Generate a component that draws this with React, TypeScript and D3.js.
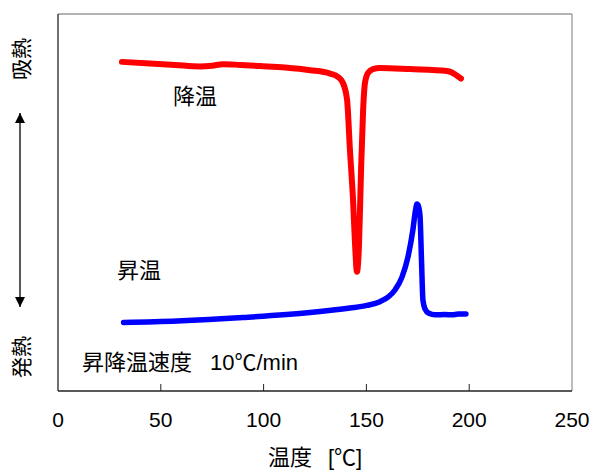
import React from "react";
import * as d3 from "d3";

const coolingTemp = [31.1, 44.7, 56.9, 69.1, 74.9, 80.3, 88.5, 98.2, 110.4, 122.6, 132.3, 136.2, 138.6, 140.6, 142.0, 143.5, 144.5, 145.4, 146.4, 147.4, 148.4, 149.3, 150.8, 153.2, 156.6, 171.2, 189.2, 191.6, 194.1, 196.0];
const coolingHeat = [87.3, 86.9, 86.5, 86.1, 86.3, 86.7, 86.5, 86.2, 85.8, 85.1, 84.2, 83.3, 81.7, 77.2, 63.9, 50.7, 38.7, 31.6, 38.7, 58.6, 74.5, 81.7, 84.4, 85.4, 85.7, 85.4, 84.9, 84.5, 83.6, 82.9];

const heatingTemp = [31.9, 57.9, 90.0, 122.6, 142.0, 150.3, 156.6, 160.5, 163.9, 167.3, 170.2, 172.6, 173.9, 174.6, 175.3, 176.1, 176.8, 177.5, 178.5, 180.4, 183.4, 188.2, 191.6, 194.6, 198.4];
const heatingHeat = [18.2, 18.6, 19.5, 20.8, 22.0, 22.7, 23.7, 24.9, 26.8, 30.2, 35.5, 42.7, 48.0, 49.6, 49.1, 46.2, 34.7, 24.1, 21.8, 20.6, 20.2, 20.3, 20.2, 20.4, 20.4];

const xTicks = [0, 50, 100, 150, 200, 250];
const innerTicks = [50, 100, 150, 200];

const labelCooling = "降温";
const labelHeating = "昇温";
const labelRateA = "昇降温速度";
const labelRateB = "10℃/min";
const labelXA = "温度";
const labelXB = "[℃]";
const labelEndo = "吸熱";
const labelExo = "発熱";

const W = 594;
const H = 472;
const M = { left: 58, right: 572, top: 14, bottom: 391 };

const FONT = "'Liberation Sans', Arial, 'Noto Sans CJK JP', sans-serif";
const CJK = "'Noto Sans CJK JP', sans-serif";

export default function App() {
  const x = d3.scaleLinear().domain([0, 250]).range([M.left, M.right]);
  const y = d3.scaleLinear().domain([0, 100]).range([M.bottom, M.top]);

  const line = d3
    .line<[number, number]>()
    .x((d) => x(d[0]))
    .y((d) => y(d[1]))
    .curve(d3.curveMonotoneX);

  const cooling = coolingTemp.map((t, i) => [t, coolingHeat[i]] as [number, number]);
  const heating = heatingTemp.map((t, i) => [t, heatingHeat[i]] as [number, number]);

  return (
    <svg width={W} height={H} style={{ position: "absolute", left: 0, top: 0 }}>
      <defs>
        <marker id="ah" viewBox="0 0 10 10" refX="10" refY="5" markerWidth="10" markerHeight="11" markerUnits="userSpaceOnUse" orient="auto">
          <path d="M0,0 L10,5 L0,10 z" fill="#000" />
        </marker>
      </defs>
      <rect width={W} height={H} fill="#fff" />
      {/* frame */}
      <line x1={M.left} x2={M.right} y1={M.top} y2={M.top} stroke="#999" strokeWidth={1.3} />
      <line x1={M.right} x2={M.right} y1={M.top} y2={M.bottom} stroke="#999" strokeWidth={1.3} />
      <line x1={M.left} x2={M.left} y1={M.top} y2={M.bottom} stroke="#222" strokeWidth={1.3} />
      <line x1={M.left} x2={M.right} y1={M.bottom} y2={M.bottom} stroke="#222" strokeWidth={1.3} />
      {innerTicks.map((t) => (
        <line key={t} x1={x(t)} x2={x(t)} y1={M.bottom} y2={M.bottom - 7} stroke="#222" strokeWidth={1} />
      ))}
      {xTicks.map((t) => (
        <text key={t} x={x(t)} y={427} textAnchor="middle" fontFamily={FONT} fontSize={21} fill="#000">
          {t}
        </text>
      ))}
      <text x={268} y={465} fontFamily={CJK} fontSize={22} fill="#000">
        {labelXA}
      </text>
      <text x={328} y={465} fontFamily={FONT} fontSize={22} fill="#000">
        {labelXB}
      </text>

      {/* curves */}
      <path d={line(cooling) || ""} fill="none" stroke="#ff0000" strokeWidth={6} strokeLinecap="round" strokeLinejoin="round" />
      <path d={line(heating) || ""} fill="none" stroke="#0000ff" strokeWidth={5.5} strokeLinecap="round" strokeLinejoin="round" />

      {/* annotations */}
      <text x={173} y={104} fontFamily={CJK} fontSize={22} fill="#000">
        {labelCooling}
      </text>
      <text x={117} y={278} fontFamily={CJK} fontSize={22} fill="#000">
        {labelHeating}
      </text>
      <text x={82} y={370} fontFamily={CJK} fontSize={22} fill="#000">
        {labelRateA}
      </text>
      <text x={210} y={370} fontFamily={FONT} fontSize={22} fill="#000">
        {labelRateB}
      </text>

      {/* left axis labels */}
      <text transform={`translate(29,59) rotate(-90)`} textAnchor="middle" fontFamily={CJK} fontSize={21} fill="#000">
        {labelEndo}
      </text>
      <text transform={`translate(29,357) rotate(-90)`} textAnchor="middle" fontFamily={CJK} fontSize={21} fill="#000">
        {labelExo}
      </text>
      <line x1={20} x2={20} y1={210} y2={113} stroke="#000" strokeWidth={1.3} markerEnd="url(#ah)" />
      <line x1={20} x2={20} y1={210} y2={307} stroke="#000" strokeWidth={1.3} markerEnd="url(#ah)" />
    </svg>
  );
}
